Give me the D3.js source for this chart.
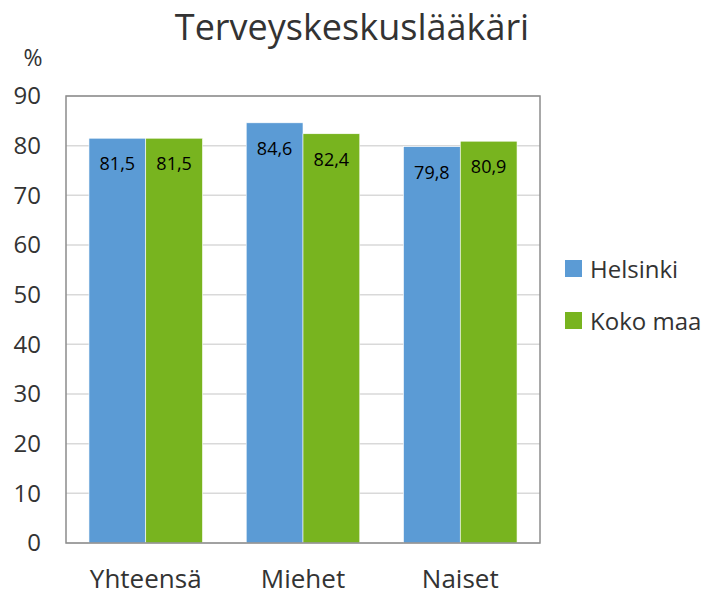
<!DOCTYPE html>
<html>
<head>
<meta charset="utf-8">
<script src="https://cdn.jsdelivr.net/npm/d3@7"></script>
<style>
  body { margin: 0; background: #fff; }
  text { font-family: 'Open Sans', sans-serif; }
</style>
</head>
<body>
<div id="chart"></div>
<script>
var categories = ['Yhteensä', 'Miehet', 'Naiset']
var series = ['Helsinki', 'Koko maa']
var helsinki = [81.5, 84.6, 79.8]
var kokoMaa = [81.5, 82.4, 80.9]
var yTicks = [0, 10, 20, 30, 40, 50, 60, 70, 80, 90]
var colors = ['#5b9bd5', '#78b41f']

var margin = { top: 96, left: 66, right: 167, bottom: 54 }
var width = 707 - margin.left - margin.right
var height = 597 - margin.top - margin.bottom

var svg = d3
  .select('#chart')
  .append('svg')
  .attr('width', 707)
  .attr('height', 597)

var g = svg.append('g')
  .attr('transform', `translate(${margin.left},${margin.top})`)

var xPositionScale = d3.scaleBand()
  .domain(categories)
  .range([0, width])
  .paddingInner(0.278)
  .paddingOuter(0.146)

var xSub = d3.scaleBand()
  .domain(series)
  .range([0, xPositionScale.bandwidth()])

var yPositionScale = d3.scaleLinear()
  .domain([0, 90])
  .range([height, 0])

var colorScale = d3.scaleOrdinal().domain(series).range(colors)

// grid lines
g.selectAll('.grid')
  .data(yTicks)
  .enter()
  .append('line')
  .attr('x1', 0)
  .attr('x2', width)
  .attr('y1', d => yPositionScale(d))
  .attr('y2', d => yPositionScale(d))
  .attr('stroke', '#d9d9d9')
  .attr('stroke-width', 1.5)

var rows = categories.map((c, i) => ({
  category: c,
  values: [
    { series: 'Helsinki', value: helsinki[i] },
    { series: 'Koko maa', value: kokoMaa[i] }
  ]
}))

var groups = g.selectAll('.group')
  .data(rows)
  .enter()
  .append('g')
  .attr('transform', d => `translate(${xPositionScale(d.category)},0)`)

groups.selectAll('rect')
  .data(d => d.values)
  .enter()
  .append('rect')
  .attr('x', d => xSub(d.series))
  .attr('y', d => yPositionScale(d.value))
  .attr('width', xSub.bandwidth())
  .attr('height', d => height - yPositionScale(d.value))
  .attr('fill', d => colorScale(d.series))
  .attr('stroke', '#fff')
  .attr('stroke-width', 0.6)

groups.selectAll('.label')
  .data(d => d.values)
  .enter()
  .append('text')
  .attr('x', d => xSub(d.series) + xSub.bandwidth() / 2)
  .attr('y', d => yPositionScale(d.value) + 25)
  .attr('text-anchor', 'middle')
  .attr('dominant-baseline', 'central')
  .attr('font-size', 18)
  .attr('fill', '#000')
  .text(d => d.value.toFixed(1).replace('.', ','))

// plot border
g.append('rect')
  .attr('x', 0)
  .attr('y', 0)
  .attr('width', width)
  .attr('height', height)
  .attr('fill', 'none')
  .attr('stroke', '#8c8c8c')
  .attr('stroke-width', 1.5)

// y axis
var yAxis = d3.axisLeft(yPositionScale).tickValues(yTicks).tickSize(0).tickPadding(25)
g.append('g')
  .attr('class', 'axis y-axis')
  .call(yAxis)
  .call(s => s.select('.domain').remove())
  .selectAll('text')
  .attr('font-size', 24)
  .attr('font-family', "'Open Sans', sans-serif")
  .attr('fill', '#333')

// x axis
var xAxis = d3.axisBottom(xPositionScale).tickSize(0).tickPadding(27)
g.append('g')
  .attr('class', 'axis x-axis')
  .attr('transform', `translate(0,${height})`)
  .call(xAxis)
  .call(s => s.select('.domain').remove())
  .selectAll('text')
  .attr('font-size', 26)
  .attr('font-family', "'Open Sans', sans-serif")
  .attr('fill', '#333')

// title and unit
svg.append('text')
  .attr('x', 352)
  .attr('y', 40)
  .attr('text-anchor', 'middle')
  .attr('font-size', 36)
  .attr('fill', '#333')
  .text('Terveyskeskuslääkäri')

svg.append('text')
  .attr('x', 33)
  .attr('y', 57)
  .attr('text-anchor', 'middle')
  .attr('dominant-baseline', 'central')
  .attr('font-size', 23)
  .attr('fill', '#333')
  .text('%')

// legend
var legend = svg.selectAll('.legend')
  .data(series)
  .enter()
  .append('g')
  .attr('transform', (d, i) => `translate(565,${260 + i * 52})`)

legend.append('rect')
  .attr('width', 17)
  .attr('height', 17)
  .attr('fill', d => colorScale(d))

legend.append('text')
  .attr('x', 25)
  .attr('y', 8)
  .attr('dominant-baseline', 'central')
  .attr('font-size', 24)
  .attr('fill', '#333')
  .text(d => d)
</script>
</body>
</html>
